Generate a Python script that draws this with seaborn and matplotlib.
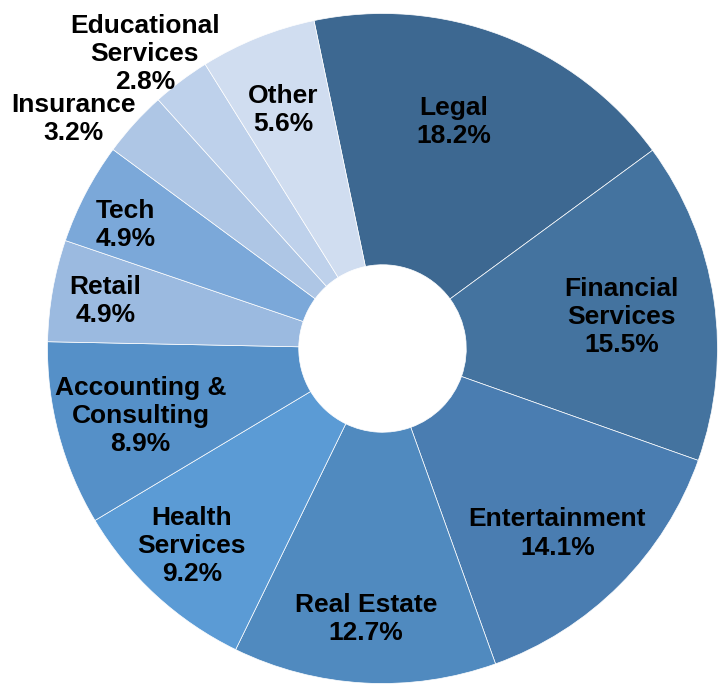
import numpy as np
import matplotlib
matplotlib.use("Agg")
import matplotlib.pyplot as plt
import seaborn as sns

# data
sectors = ['Legal', 'Financial\nServices', 'Entertainment', 'Real Estate',
           'Health\nServices', 'Accounting &\nConsulting', 'Retail', 'Tech',
           'Insurance', 'Educational\nServices', 'Other']
shares = [18.2, 15.5, 14.1, 12.7, 9.2, 8.9, 4.9, 4.9, 3.2, 2.8, 5.6]
colors = ['#3D6891', '#44739F', '#4A7DB1', '#508ABF', '#5B9BD5', '#5590C8',
          '#9BBAE0', '#7BA8D9', '#AEC6E5', '#BED1EB', '#D0DDF0']

# label placement (fraction of radius, small angle nudge in degrees)
label_r = [0.71, 0.72, 0.76, 0.81, 0.82, 0.75, 0.84, 0.85, 1.15, 1.13, 0.77]
label_nudge = [3.5, -0.9, -1.7, -0.3, -1.4, 0.8, 0.2, 2.0, 5.6, 1.9, 0.7]

sns.set_theme(style="white")
plt.rcParams['font.family'] = ['Liberation Sans', 'DejaVu Sans']

fig = plt.figure(figsize=(7.19, 6.86), dpi=100)
ax = fig.add_axes([0, 0, 1, 1])

wedges, _ = ax.pie(shares, colors=colors, startangle=101.8, counterclock=False,
                   wedgeprops=dict(width=0.75, edgecolor='white', linewidth=0.5))

for w, name, val, r, dn in zip(wedges, sectors, shares, label_r, label_nudge):
    ang = np.deg2rad((w.theta1 + w.theta2) / 2 + dn)
    ax.text(r * np.cos(ang), r * np.sin(ang), f'{name}\n{val}%',
            ha='center', va='center', fontsize=19, fontweight='bold',
            color='black', linespacing=1.22)

ax.set_xlim(-382.5 / 335, (719 - 382.5) / 335)
ax.set_ylim(-(686 - 348.5) / 335, 348.5 / 335)
ax.set_aspect('auto')
ax.axis('off')

fig.savefig('out.png', dpi=100)
